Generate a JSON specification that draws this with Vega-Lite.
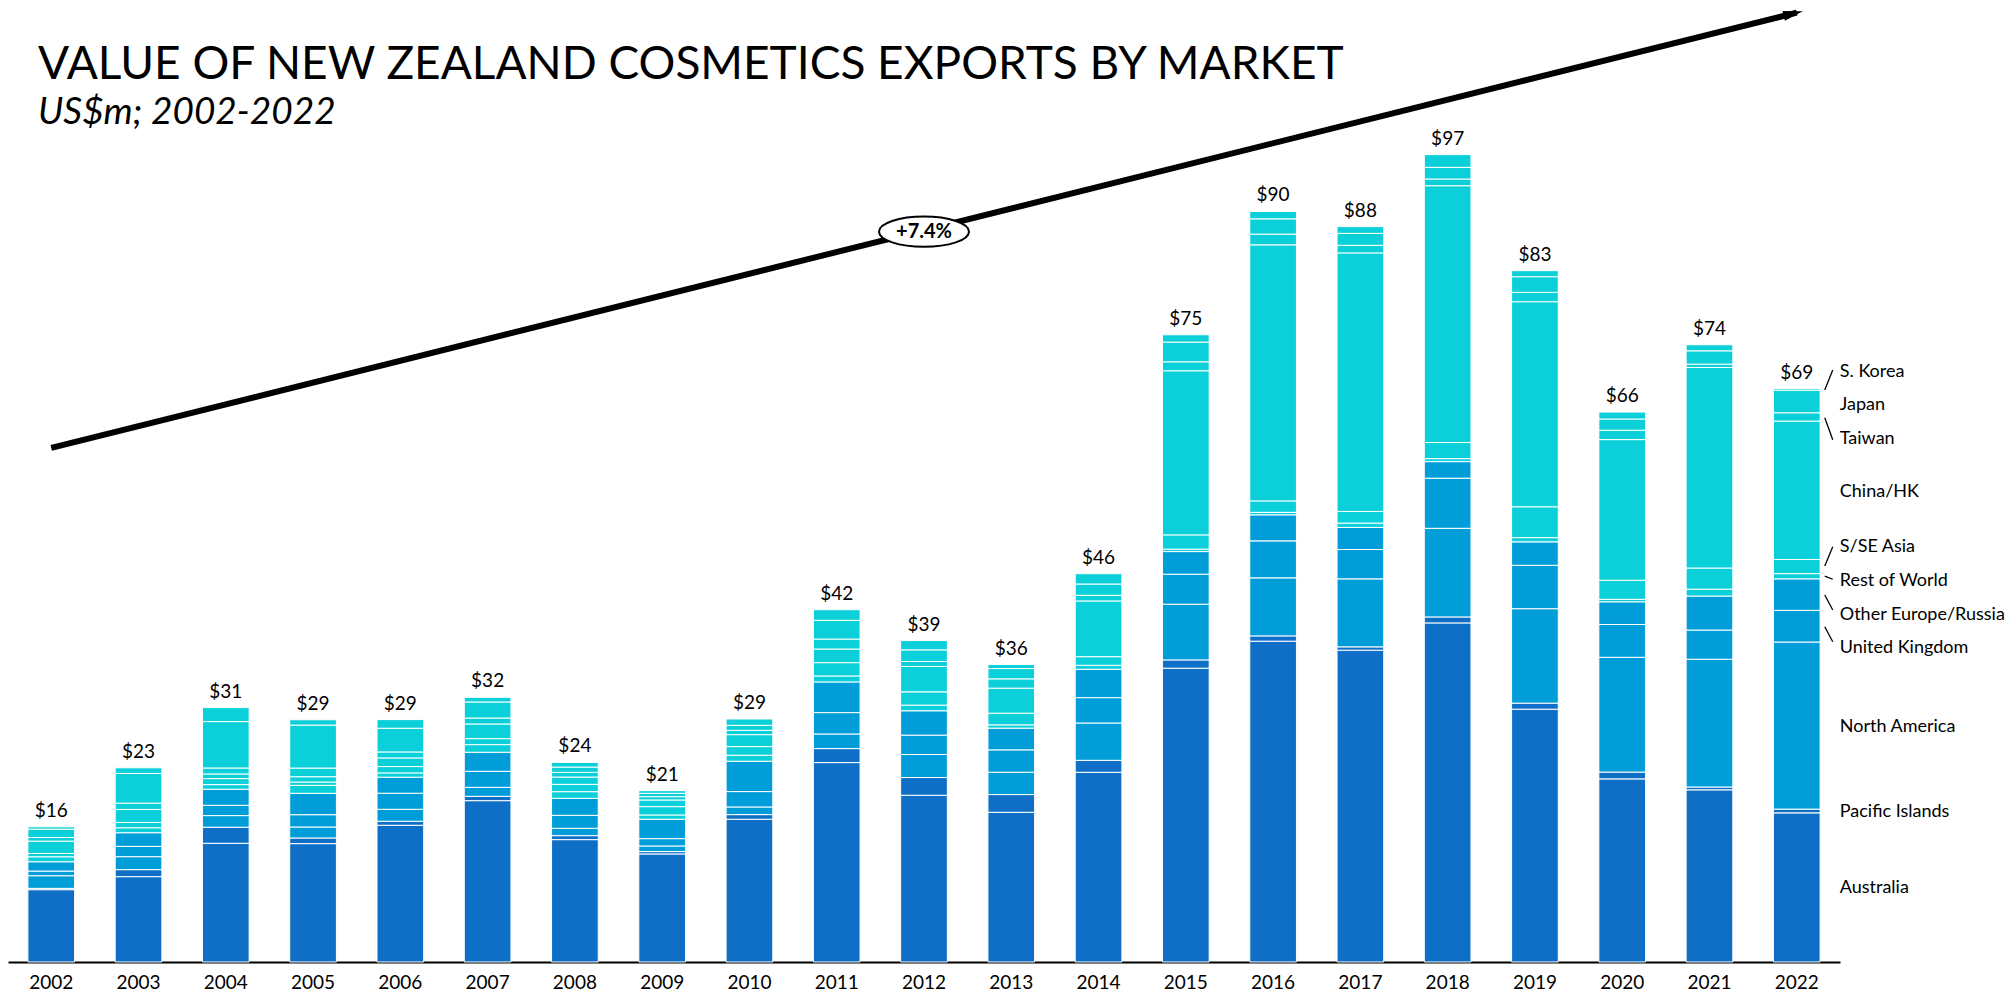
{
  "$schema": "https://vega.github.io/schema/vega-lite/v6.json",
  "autosize": {"type": "none"},
  "width": 1832,
  "height": 956,
  "padding": {"left": 8, "top": 6, "right": 167, "bottom": 30},
  "background": "white",
  "config": {"view": {"stroke": null}, "font": "Lato"},
  "title": {
    "text": "VALUE OF NEW ZEALAND COSMETICS EXPORTS BY MARKET",
    "subtitle": "US$m; 2002-2022",
    "anchor": "start",
    "frame": "group",
    "dx": 30,
    "offset": -131,
    "font": "Lato",
    "fontSize": 46,
    "fontWeight": "normal",
    "color": "black",
    "subtitleFont": "Lato",
    "subtitleFontSize": 37,
    "subtitleFontStyle": "italic",
    "subtitleColor": "black",
    "subtitlePadding": 6
  },
  "datasets": {
    "markets": [
      {"market": "Australia", "rank": 1},
      {"market": "Pacific Islands", "rank": 2},
      {"market": "North America", "rank": 3},
      {"market": "United Kingdom", "rank": 4},
      {"market": "Other Europe/Russia", "rank": 5},
      {"market": "Rest of World", "rank": 6},
      {"market": "S/SE Asia", "rank": 7},
      {"market": "China/HK", "rank": 8},
      {"market": "Taiwan", "rank": 9},
      {"market": "Japan", "rank": 10},
      {"market": "S. Korea", "rank": 11}
    ],
    "totals": [
      {"year": "2002", "total": 16}, {"year": "2003", "total": 23}, {"year": "2004", "total": 31},
      {"year": "2005", "total": 29}, {"year": "2006", "total": 29}, {"year": "2007", "total": 32},
      {"year": "2008", "total": 24}, {"year": "2009", "total": 21}, {"year": "2010", "total": 29},
      {"year": "2011", "total": 42}, {"year": "2012", "total": 39}, {"year": "2013", "total": 36},
      {"year": "2014", "total": 46}, {"year": "2015", "total": 75}, {"year": "2016", "total": 90},
      {"year": "2017", "total": 88}, {"year": "2018", "total": 97}, {"year": "2019", "total": 83},
      {"year": "2020", "total": 66}, {"year": "2021", "total": 74}, {"year": "2022", "total": 69}
    ],
    "exports": [
      {"year":"2002","market":"Australia","value":8.7},{"year":"2002","market":"Pacific Islands","value":0.16},{"year":"2002","market":"North America","value":1.52},{"year":"2002","market":"United Kingdom","value":0.56},{"year":"2002","market":"Other Europe/Russia","value":1.12},{"year":"2002","market":"Rest of World","value":0.6},{"year":"2002","market":"S/SE Asia","value":0.4},{"year":"2002","market":"China/HK","value":1.48},{"year":"2002","market":"Taiwan","value":0.44},{"year":"2002","market":"Japan","value":1.0},{"year":"2002","market":"S. Korea","value":0.28},
      {"year":"2003","market":"Australia","value":10.27},{"year":"2003","market":"Pacific Islands","value":0.84},{"year":"2003","market":"North America","value":1.56},{"year":"2003","market":"United Kingdom","value":1.24},{"year":"2003","market":"Other Europe/Russia","value":1.64},{"year":"2003","market":"Rest of World","value":0.6},{"year":"2003","market":"S/SE Asia","value":0.64},{"year":"2003","market":"China/HK","value":1.56},{"year":"2003","market":"Taiwan","value":0.76},{"year":"2003","market":"Japan","value":3.57},{"year":"2003","market":"S. Korea","value":0.68},
      {"year":"2004","market":"Australia","value":14.28},{"year":"2004","market":"Pacific Islands","value":1.93},{"year":"2004","market":"North America","value":1.4},{"year":"2004","market":"United Kingdom","value":1.24},{"year":"2004","market":"Other Europe/Russia","value":1.93},{"year":"2004","market":"Rest of World","value":0.56},{"year":"2004","market":"S/SE Asia","value":0.72},{"year":"2004","market":"China/HK","value":0.56},{"year":"2004","market":"Taiwan","value":0.72},{"year":"2004","market":"Japan","value":5.58},{"year":"2004","market":"S. Korea","value":1.68},
      {"year":"2005","market":"Australia","value":14.24},{"year":"2005","market":"Pacific Islands","value":0.68},{"year":"2005","market":"North America","value":1.32},{"year":"2005","market":"United Kingdom","value":1.48},{"year":"2005","market":"Other Europe/Russia","value":2.57},{"year":"2005","market":"Rest of World","value":0.96},{"year":"2005","market":"S/SE Asia","value":0.4},{"year":"2005","market":"China/HK","value":0.64},{"year":"2005","market":"Taiwan","value":1.04},{"year":"2005","market":"Japan","value":5.17},{"year":"2005","market":"S. Korea","value":0.64},
      {"year":"2006","market":"Australia","value":16.45},{"year":"2006","market":"Pacific Islands","value":0.48},{"year":"2006","market":"North America","value":1.44},{"year":"2006","market":"United Kingdom","value":1.93},{"year":"2006","market":"Other Europe/Russia","value":1.93},{"year":"2006","market":"Rest of World","value":0.52},{"year":"2006","market":"S/SE Asia","value":0.76},{"year":"2006","market":"China/HK","value":1.04},{"year":"2006","market":"Taiwan","value":0.72},{"year":"2006","market":"Japan","value":2.85},{"year":"2006","market":"S. Korea","value":1.04},
      {"year":"2007","market":"Australia","value":19.41},{"year":"2007","market":"Pacific Islands","value":0.52},{"year":"2007","market":"North America","value":1.08},{"year":"2007","market":"United Kingdom","value":1.93},{"year":"2007","market":"Other Europe/Russia","value":2.29},{"year":"2007","market":"Rest of World","value":0.92},{"year":"2007","market":"S/SE Asia","value":0.72},{"year":"2007","market":"China/HK","value":1.76},{"year":"2007","market":"Taiwan","value":0.72},{"year":"2007","market":"Japan","value":1.93},{"year":"2007","market":"S. Korea","value":0.56},
      {"year":"2008","market":"Australia","value":14.72},{"year":"2008","market":"Pacific Islands","value":0.48},{"year":"2008","market":"North America","value":0.88},{"year":"2008","market":"United Kingdom","value":1.56},{"year":"2008","market":"Other Europe/Russia","value":2.05},{"year":"2008","market":"Rest of World","value":0.8},{"year":"2008","market":"S/SE Asia","value":0.88},{"year":"2008","market":"China/HK","value":0.88},{"year":"2008","market":"Taiwan","value":0.56},{"year":"2008","market":"Japan","value":0.64},{"year":"2008","market":"S. Korea","value":0.56},
      {"year":"2009","market":"Australia","value":13.0},{"year":"2009","market":"Pacific Islands","value":0.28},{"year":"2009","market":"North America","value":0.68},{"year":"2009","market":"United Kingdom","value":0.88},{"year":"2009","market":"Other Europe/Russia","value":2.33},{"year":"2009","market":"Rest of World","value":0.52},{"year":"2009","market":"S/SE Asia","value":1.0},{"year":"2009","market":"China/HK","value":0.8},{"year":"2009","market":"Taiwan","value":0.4},{"year":"2009","market":"Japan","value":0.4},{"year":"2009","market":"S. Korea","value":0.32},
      {"year":"2010","market":"Australia","value":17.17},{"year":"2010","market":"Pacific Islands","value":0.56},{"year":"2010","market":"North America","value":0.92},{"year":"2010","market":"United Kingdom","value":1.85},{"year":"2010","market":"Other Europe/Russia","value":3.65},{"year":"2010","market":"Rest of World","value":0.72},{"year":"2010","market":"S/SE Asia","value":1.04},{"year":"2010","market":"China/HK","value":1.44},{"year":"2010","market":"Taiwan","value":0.52},{"year":"2010","market":"Japan","value":0.6},{"year":"2010","market":"S. Korea","value":0.76},
      {"year":"2011","market":"Australia","value":23.99},{"year":"2011","market":"Pacific Islands","value":1.68},{"year":"2011","market":"North America","value":1.76},{"year":"2011","market":"United Kingdom","value":2.57},{"year":"2011","market":"Other Europe/Russia","value":3.69},{"year":"2011","market":"Rest of World","value":0.72},{"year":"2011","market":"S/SE Asia","value":1.6},{"year":"2011","market":"China/HK","value":1.64},{"year":"2011","market":"Taiwan","value":1.2},{"year":"2011","market":"Japan","value":2.25},{"year":"2011","market":"S. Korea","value":1.28},
      {"year":"2012","market":"Australia","value":20.06},{"year":"2012","market":"Pacific Islands","value":2.13},{"year":"2012","market":"North America","value":2.77},{"year":"2012","market":"United Kingdom","value":2.33},{"year":"2012","market":"Other Europe/Russia","value":2.93},{"year":"2012","market":"Rest of World","value":0.68},{"year":"2012","market":"S/SE Asia","value":1.6},{"year":"2012","market":"China/HK","value":3.05},{"year":"2012","market":"Taiwan","value":0.6},{"year":"2012","market":"Japan","value":1.4},{"year":"2012","market":"S. Korea","value":1.12},
      {"year":"2013","market":"Australia","value":18.01},{"year":"2013","market":"Pacific Islands","value":2.13},{"year":"2013","market":"North America","value":2.69},{"year":"2013","market":"United Kingdom","value":2.69},{"year":"2013","market":"Other Europe/Russia","value":2.61},{"year":"2013","market":"Rest of World","value":0.4},{"year":"2013","market":"S/SE Asia","value":1.4},{"year":"2013","market":"China/HK","value":3.01},{"year":"2013","market":"Taiwan","value":1.12},{"year":"2013","market":"Japan","value":1.24},{"year":"2013","market":"S. Korea","value":0.48},
      {"year":"2014","market":"Australia","value":22.82},{"year":"2014","market":"Pacific Islands","value":1.44},{"year":"2014","market":"North America","value":4.49},{"year":"2014","market":"United Kingdom","value":3.05},{"year":"2014","market":"Other Europe/Russia","value":3.41},{"year":"2014","market":"Rest of World","value":0.48},{"year":"2014","market":"S/SE Asia","value":1.04},{"year":"2014","market":"China/HK","value":6.7},{"year":"2014","market":"Taiwan","value":0.68},{"year":"2014","market":"Japan","value":1.36},{"year":"2014","market":"S. Korea","value":1.24},
      {"year":"2015","market":"Australia","value":35.34},{"year":"2015","market":"Pacific Islands","value":1.0},{"year":"2015","market":"North America","value":6.7},{"year":"2015","market":"United Kingdom","value":3.61},{"year":"2015","market":"Other Europe/Russia","value":2.72},{"year":"2015","market":"Rest of World","value":0.29},{"year":"2015","market":"S/SE Asia","value":1.72},{"year":"2015","market":"China/HK","value":19.74},{"year":"2015","market":"Taiwan","value":1.08},{"year":"2015","market":"Japan","value":2.37},{"year":"2015","market":"S. Korea","value":0.88},
      {"year":"2016","market":"Australia","value":38.59},{"year":"2016","market":"Pacific Islands","value":0.64},{"year":"2016","market":"North America","value":6.98},{"year":"2016","market":"United Kingdom","value":4.45},{"year":"2016","market":"Other Europe/Russia","value":3.13},{"year":"2016","market":"Rest of World","value":0.3},{"year":"2016","market":"S/SE Asia","value":1.38},{"year":"2016","market":"China/HK","value":30.8},{"year":"2016","market":"Taiwan","value":1.29},{"year":"2016","market":"Japan","value":1.84},{"year":"2016","market":"S. Korea","value":0.88},
      {"year":"2017","market":"Australia","value":37.51},{"year":"2017","market":"Pacific Islands","value":0.4},{"year":"2017","market":"North America","value":8.18},{"year":"2017","market":"United Kingdom","value":3.53},{"year":"2017","market":"Other Europe/Russia","value":2.65},{"year":"2017","market":"Rest of World","value":0.53},{"year":"2017","market":"S/SE Asia","value":1.4},{"year":"2017","market":"China/HK","value":31.1},{"year":"2017","market":"Taiwan","value":0.91},{"year":"2017","market":"Japan","value":1.44},{"year":"2017","market":"S. Korea","value":0.81},
      {"year":"2018","market":"Australia","value":40.79},{"year":"2018","market":"Pacific Islands","value":0.72},{"year":"2018","market":"North America","value":10.66},{"year":"2018","market":"United Kingdom","value":6.03},{"year":"2018","market":"Other Europe/Russia","value":1.99},{"year":"2018","market":"Rest of World","value":0.36},{"year":"2018","market":"S/SE Asia","value":1.94},{"year":"2018","market":"China/HK","value":30.89},{"year":"2018","market":"Taiwan","value":0.81},{"year":"2018","market":"Japan","value":1.4},{"year":"2018","market":"S. Korea","value":1.53},
      {"year":"2019","market":"Australia","value":30.41},{"year":"2019","market":"Pacific Islands","value":0.73},{"year":"2019","market":"North America","value":11.36},{"year":"2019","market":"United Kingdom","value":5.22},{"year":"2019","market":"Other Europe/Russia","value":2.82},{"year":"2019","market":"Rest of World","value":0.51},{"year":"2019","market":"S/SE Asia","value":3.71},{"year":"2019","market":"China/HK","value":24.67},{"year":"2019","market":"Taiwan","value":1.12},{"year":"2019","market":"Japan","value":1.89},{"year":"2019","market":"S. Korea","value":0.72},
      {"year":"2020","market":"Australia","value":22.03},{"year":"2020","market":"Pacific Islands","value":0.82},{"year":"2020","market":"North America","value":13.8},{"year":"2020","market":"United Kingdom","value":3.95},{"year":"2020","market":"Other Europe/Russia","value":2.73},{"year":"2020","market":"Rest of World","value":0.3},{"year":"2020","market":"S/SE Asia","value":2.29},{"year":"2020","market":"China/HK","value":16.92},{"year":"2020","market":"Taiwan","value":1.13},{"year":"2020","market":"Japan","value":1.35},{"year":"2020","market":"S. Korea","value":0.83},
      {"year":"2021","market":"Australia","value":20.71},{"year":"2021","market":"Pacific Islands","value":0.34},{"year":"2021","market":"North America","value":15.37},{"year":"2021","market":"United Kingdom","value":3.51},{"year":"2021","market":"Other Europe/Russia","value":4.09},{"year":"2021","market":"Rest of World","value":0.83},{"year":"2021","market":"S/SE Asia","value":2.54},{"year":"2021","market":"China/HK","value":24.13},{"year":"2021","market":"Taiwan","value":0.4},{"year":"2021","market":"Japan","value":1.6},{"year":"2021","market":"S. Korea","value":0.73},
      {"year":"2022","market":"Australia","value":17.94},{"year":"2022","market":"Pacific Islands","value":0.45},{"year":"2022","market":"North America","value":20.1},{"year":"2022","market":"United Kingdom","value":3.81},{"year":"2022","market":"Other Europe/Russia","value":3.79},{"year":"2022","market":"Rest of World","value":0.63},{"year":"2022","market":"S/SE Asia","value":1.7},{"year":"2022","market":"China/HK","value":16.65},{"year":"2022","market":"Taiwan","value":1.0},{"year":"2022","market":"Japan","value":2.71},{"year":"2022","market":"S. Korea","value":0.18}
    ],
    "trend": [
      {"year": "2002", "value": 61.85},
      {"year": "2022", "value": 114.2}
    ],
    "trendTip": [{"year": "2022", "value": 114.2}],
    "cagr": [{"year": "2012", "value": 87.85, "label": "+7.4%"}],
    "labels": [
      {"market": "S. Korea", "labelY": 70.97},
      {"market": "Japan", "labelY": 67.0},
      {"market": "Taiwan", "labelY": 62.91},
      {"market": "China/HK", "labelY": 56.54},
      {"market": "S/SE Asia", "labelY": 49.92},
      {"market": "Rest of World", "labelY": 45.83},
      {"market": "Other Europe/Russia", "labelY": 41.74},
      {"market": "United Kingdom", "labelY": 37.77},
      {"market": "North America", "labelY": 28.27},
      {"market": "Pacific Islands", "labelY": 18.04},
      {"market": "Australia", "labelY": 8.9}
    ],
    "leaders": [
      {"market": "S. Korea", "y1": 68.81, "y2": 71.21},
      {"market": "Taiwan", "y1": 65.48, "y2": 62.83},
      {"market": "S/SE Asia", "y1": 47.64, "y2": 49.96},
      {"market": "Rest of World", "y1": 46.43, "y2": 46.04},
      {"market": "Other Europe/Russia", "y1": 44.15, "y2": 42.34},
      {"market": "United Kingdom", "y1": 40.33, "y2": 38.53}
    ]
  },
  "encoding": {
    "x": {
      "field": "year",
      "type": "nominal",
      "scale": {"paddingInner": 0.465, "paddingOuter": 0.228},
      "axis": {
        "title": null,
        "labelAngle": 0,
        "ticks": false,
        "grid": false,
        "domainColor": "black",
        "domainWidth": 2,
        "labelFont": "Lato",
        "labelFontSize": 19,
        "labelColor": "black",
        "labelPadding": 11
      }
    }
  },
  "layer": [
    {
      "data": {"name": "exports"},
      "transform": [
        {"lookup": "market", "from": {"data": {"name": "markets"}, "key": "market", "fields": ["rank"]}}
      ],
      "mark": {"type": "bar", "stroke": "white", "strokeWidth": 1},
      "encoding": {
        "y": {
          "field": "value",
          "type": "quantitative",
          "stack": "zero",
          "scale": {"domain": [0, 115], "nice": false, "zero": true},
          "axis": null
        },
        "order": {"field": "rank", "type": "quantitative", "sort": "ascending"},
        "color": {
          "field": "market",
          "type": "nominal",
          "legend": null,
          "scale": {
            "domain": ["Australia", "Pacific Islands", "North America", "United Kingdom", "Other Europe/Russia", "Rest of World", "S/SE Asia", "China/HK", "Taiwan", "Japan", "S. Korea"],
            "range": ["#0F6FC6", "#0F6FC6", "#009DD9", "#009DD9", "#009DD9", "#0BD0D9", "#0BD0D9", "#0BD0D9", "#0BD0D9", "#0BD0D9", "#0BD0D9"]
          }
        }
      }
    },
    {
      "data": {"name": "exports"},
      "transform": [
        {"aggregate": [{"op": "sum", "field": "value", "as": "barTop"}], "groupby": ["year"]},
        {"lookup": "year", "from": {"data": {"name": "totals"}, "key": "year", "fields": ["total"]}}
      ],
      "mark": {"type": "text", "baseline": "alphabetic", "align": "center", "dy": -10, "fontSize": 19, "font": "Lato", "color": "black"},
      "encoding": {
        "y": {"field": "barTop", "type": "quantitative"},
        "text": {"field": "total", "type": "quantitative", "format": "$.0f"}
      }
    },
    {
      "data": {"name": "trend"},
      "mark": {"type": "line", "color": "black", "strokeWidth": 6, "strokeCap": "butt"},
      "encoding": {
        "y": {"field": "value", "type": "quantitative"}
      }
    },
    {
      "data": {"name": "trendTip"},
      "mark": {
        "type": "point",
        "shape": "M0.7,0 L-1.5,-0.55 L-1.5,0.55 Z",
        "size": 324,
        "angle": -14,
        "filled": true,
        "color": "black",
        "opacity": 1
      },
      "encoding": {
        "y": {"field": "value", "type": "quantitative"}
      }
    },
    {
      "data": {"name": "cagr"},
      "mark": {
        "type": "point",
        "shape": "M-1,0 C-1,-0.185 -0.552,-0.335 0,-0.335 C0.552,-0.335 1,-0.185 1,0 C1,0.185 0.552,0.335 0,0.335 C-0.552,0.335 -1,0.185 -1,0 Z",
        "size": 8100,
        "filled": true,
        "fill": "white",
        "stroke": "black",
        "strokeWidth": 2,
        "opacity": 1
      },
      "encoding": {
        "y": {"field": "value", "type": "quantitative"}
      }
    },
    {
      "data": {"name": "cagr"},
      "mark": {"type": "text", "font": "Lato", "fontSize": 20, "fontWeight": "bold", "color": "black", "align": "center", "baseline": "middle"},
      "encoding": {
        "y": {"field": "value", "type": "quantitative"},
        "text": {"field": "label"}
      }
    },
    {
      "data": {"name": "leaders"},
      "mark": {"type": "rule", "color": "black", "strokeWidth": 1.3, "xOffset": 28, "x2Offset": 36},
      "encoding": {
        "x": {"datum": "2022"},
        "x2": {"datum": "2022"},
        "y": {"field": "y1", "type": "quantitative"},
        "y2": {"field": "y2"}
      }
    },
    {
      "data": {"name": "labels"},
      "mark": {"type": "text", "align": "left", "baseline": "middle", "dx": 43, "font": "Lato", "fontSize": 18, "color": "black"},
      "encoding": {
        "x": {"datum": "2022"},
        "y": {"field": "labelY", "type": "quantitative"},
        "text": {"field": "market"}
      }
    }
  ]
}
